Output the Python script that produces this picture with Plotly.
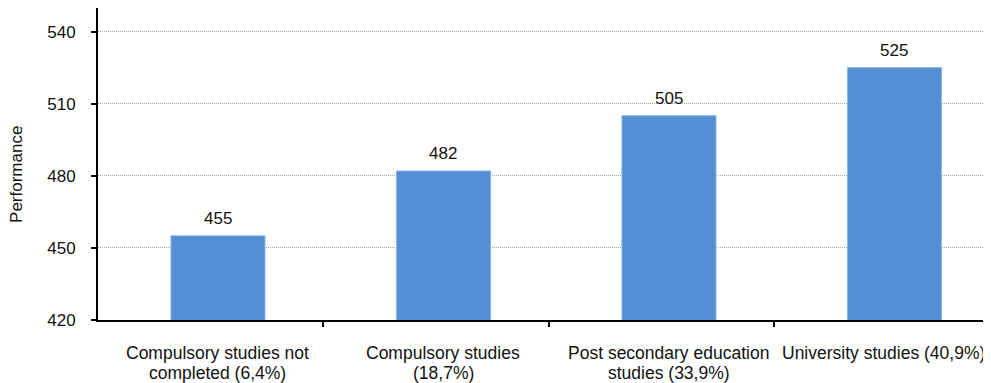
import plotly.graph_objects as go

categories = ["Compulsory studies not<br>completed (6,4%)",
              "Compulsory studies<br>(18,7%)",
              "Post secondary education<br>studies (33,9%)",
              "University studies (40,9%)"]
values = [455, 482, 505, 525]
y_ticks = [420, 450, 480, 510, 540]
boundary_ticks = [0.466, 1.466, 2.466]

x_pos = list(range(len(categories)))
font_family = "Liberation Sans, Arial, sans-serif"
FS = 17
FS_CAT = 17.5

fig = go.Figure()
fig.add_trace(go.Bar(
    x=x_pos, y=values, width=0.417,
    marker=dict(color="#558ed5", line=dict(color="#8fb4e3", width=1)),
))

for i, v in enumerate(values):
    fig.add_annotation(x=x_pos[i], y=v, xref="x", yref="y", yanchor="bottom",
                       text=str(v), showarrow=False, yshift=6,
                       font=dict(size=FS, color="#111", family=font_family))

for i, c in enumerate(categories):
    for j, line in enumerate(c.split("<br>")):
        fig.add_annotation(x=x_pos[i], y=0, xref="x", yref="paper", yanchor="middle",
                           text=line, showarrow=False, yshift=-33 - 20 * j,
                           xshift=-11 if i == 3 else 0,
                           font=dict(size=FS_CAT, color="#111", family=font_family))

fig.add_annotation(x=0, y=0.465, xref="paper", yref="paper", xanchor="center",
                   yanchor="middle", textangle=-90, text="Performance",
                   showarrow=False, xshift=-81,
                   font=dict(size=17, color="#111", family=font_family))

fig.update_layout(
    width=983, height=375,
    margin=dict(l=90, r=0, t=0, b=63),
    plot_bgcolor="white", paper_bgcolor="white",
    showlegend=False,
    font=dict(family=font_family, size=FS, color="#111"),
)
fig.update_xaxes(
    range=[-0.532, 3.428], tickvals=boundary_ticks, ticktext=["", "", ""],
    ticks="outside", ticklen=5, tickwidth=1.5, tickcolor="black",
    showline=True, linecolor="black", linewidth=2, showgrid=False, zeroline=False,
)
fig.update_yaxes(
    range=[420, 549.8], tickvals=y_ticks,
    ticks="outside", ticklen=5, tickwidth=1.5, tickcolor="black",
    showline=True, linecolor="black", linewidth=2,
    showgrid=True, gridcolor="#a6a6a6", griddash="1px,1px", gridwidth=1,
    zeroline=False, ticklabelstandoff=12,
    tickfont=dict(size=FS, color="#111", family=font_family),
)
fig.write_html("out.html")
